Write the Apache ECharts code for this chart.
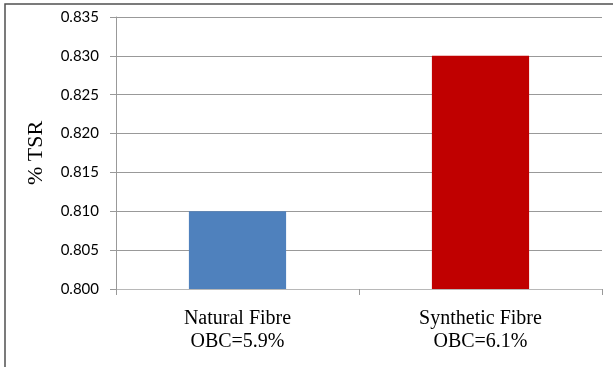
<!DOCTYPE html>
<html>
<head>
<meta charset="utf-8">
<script src="https://cdn.jsdelivr.net/npm/echarts@6/dist/echarts.min.js"></script>
<style>
html,body{margin:0;padding:0;background:#fff;}
#c{width:613px;height:367px;}
</style>
</head>
<body>
<div id="c"></div>
<script>
const categories = ['Natural Fibre\nOBC=5.9%', 'Synthetic Fibre\nOBC=6.1%'];
const tsrValues = [0.810, 0.830];
const barColors = ['#4F81BD', '#C00000'];
const yAxisName = '% TSR';

const chart = echarts.init(document.getElementById('c'), null, {renderer: 'canvas'});
chart.setOption({
  animation: false,
  backgroundColor: '#fff',
  graphic: [{
    type: 'rect',
    shape: {x: 5, y: 4, width: 700, height: 500},
    style: {fill: 'none', stroke: '#505050', lineWidth: 1.5},
    silent: true,
    z: 100
  }],
  grid: {left: 116, right: 11, top: 17, bottom: 78, containLabel: false},
  xAxis: {
    type: 'category',
    data: categories,
    axisLine: {show: true, lineStyle: {color: '#b8b8b8', width: 1}},
    axisTick: {show: true, alignWithLabel: false, length: 6, lineStyle: {color: '#999'}},
    axisLabel: {
      margin: 18,
      fontFamily: 'Liberation Serif',
      fontSize: 20,
      lineHeight: 23,
      color: '#000'
    },
    splitLine: {show: false}
  },
  yAxis: {
    type: 'value',
    min: 0.8,
    max: 0.835,
    interval: 0.005,
    name: yAxisName,
    nameLocation: 'middle',
    nameGap: 69,
    nameTextStyle: {fontFamily: 'Liberation Serif', fontSize: 22, color: '#000'},
    axisLine: {show: true, lineStyle: {color: '#999', width: 1}},
    axisTick: {show: true, length: 6, lineStyle: {color: '#999'}},
    axisLabel: {
      margin: 17,
      fontFamily: 'Lato',
      fontSize: 15,
      color: '#000',
      formatter: v => v.toFixed(3)
    },
    splitLine: {show: true, lineStyle: {color: '#999', width: 1}}
  },
  series: [{
    type: 'bar',
    barWidth: '40%',
    data: tsrValues.map((v, i) => ({value: v, itemStyle: {color: barColors[i]}}))
  }]
});
</script>
</body>
</html>
